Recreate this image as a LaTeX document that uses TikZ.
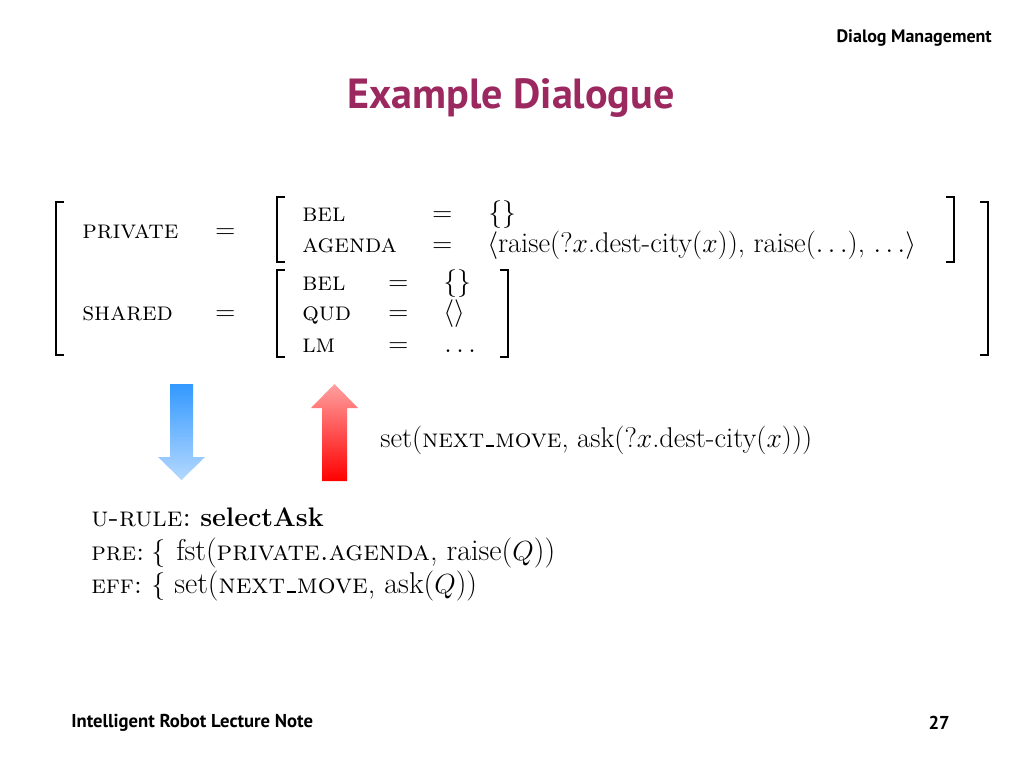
\documentclass[tikz,border=0pt]{standalone}
\usepackage{fontspec}
\newfontfamily\hdfont{PT Sans}
\definecolor{titlecol}{RGB}{155,40,95}
\definecolor{bluetop}{RGB}{51,153,255}
\definecolor{bluebot}{RGB}{180,216,255}
\definecolor{redtop}{RGB}{255,160,160}
\definecolor{redbot}{RGB}{255,0,0}
\newcommand{\usc}{\kern.05em\rule{.32em}{.07em}\kern.05em}
\newcommand{\capsz}[1]{{\fontsize{19.6}{24}\selectfont\textsc{#1}}}
\newcommand{\capbt}[1]{{\fontsize{21}{25}\selectfont\textsc{#1}}}
\tikzset{
  mt/.style={anchor=base west, inner sep=0pt, font=\fontsize{19.6}{24}\selectfont},
  mtl/.style={anchor=base west, inner sep=0pt, font=\fontsize{21.4}{26}\selectfont},
  mtr/.style={anchor=base west, inner sep=0pt, font=\fontsize{22.6}{27}\selectfont},
  brk/.style={line width=1.4pt, line cap=butt, line join=miter},
  hd/.style={inner sep=0pt, font=\hdfont\bfseries\fontsize{13.5}{16}\selectfont},
}
\begin{document}
\begin{tikzpicture}[x=0.75pt,y=-0.75pt]
\useasboundingbox (0,0) rectangle (1024,768);
\fill[white] (0,0) rectangle (1024,768);

% header / title / footer
\node[hd, anchor=base east] (hdr) at (992,42) {Dialog Management};
\node[inner sep=0pt, anchor=base, text=titlecol, font=\hdfont\bfseries\fontsize{31.6}{36}\selectfont] (title) at (511,108) {Example Dialogue};
\node[hd, anchor=base west, font=\hdfont\bfseries\fontsize{14}{16}\selectfont] (foot) at (71,727) {Intelligent Robot Lecture Note};
\node[hd, anchor=base east, font=\hdfont\bfseries\fontsize{14}{16}\selectfont] (page) at (950,729) {27};

% outer brackets
\draw[brk] (64,202) -- (56,202) -- (56,355) -- (64,355);
\draw[brk] (980,202) -- (988,202) -- (988,355) -- (980,355);
% private brackets
\draw[brk] (285,197) -- (277,197) -- (277,262) -- (285,262);
\draw[brk] (946,197) -- (954,197) -- (954,262) -- (946,262);
% shared brackets
\draw[brk] (285,270) -- (277,270) -- (277,357) -- (285,357);
\draw[brk] (500,270) -- (508,270) -- (508,357) -- (500,357);

% outer labels
\node[mt] (priv) at (82,238) {\textsc{private}};
\node[mt] (peq) at (215,238) {$=$};
\node[mt] (shar) at (82,320) {\textsc{shared}};
\node[mt] (seq) at (215,320) {$=$};

% private record
\node[mt] (bel1) at (302,221) {\textsc{bel}};
\node[mt] (bel1eq) at (432,221) {$=$};
\node[mtl] (bel1v) at (488,221) {$\{\}$};
\node[mt] (ag) at (302,252) {\textsc{agenda}};
\node[mt] (ageq) at (432,252) {$=$};
\node[mtl] (agv) at (487,252) {$\langle$raise(?$x$.dest-city($x$)), raise($\ldots$), $\ldots\rangle$};

% shared record
\node[mt] (bel2) at (302,290) {\textsc{bel}};
\node[mt] (bel2eq) at (388,290) {$=$};
\node[mtl] (bel2v) at (443,290) {$\{\}$};
\node[mt] (qud) at (302,320) {\textsc{qud}};
\node[mt] (qudeq) at (388,320) {$=$};
\node[mtl] (qudv) at (443,320) {$\langle\rangle$};
\node[mt] (lm) at (302,352) {\textsc{lm}};
\node[mt] (lmeq) at (388,352) {$=$};
\node[mtl] (lmv) at (444,352) {$\ldots$};

% block arrows
\shade[top color=bluetop, bottom color=bluebot]
  (170,384) -- (193,384) -- (193,457) -- (205,457) -- (181.5,480) -- (158,457) -- (170,457) -- cycle;
\shade[top color=redtop, bottom color=redbot]
  (334.5,384) -- (358,408) -- (347,408) -- (347,481) -- (322,481) -- (322,408) -- (311,408) -- cycle;

\node[mtl] (setlbl) at (380,447) {set(\capsz{next\usc move}, ask(?$x$.dest-city($x$)))};

% update rule
\node[mtr] (urule) at (91,526) {\capbt{u-rule:}};
\node[mtr, font=\fontsize{20.1}{24}\selectfont\bfseries] (uname) at (200,526) {selectAsk};
\node[mtr] (pre) at (91,560) {\capsz{pre:}};
\node[mtr] (prebr) at (151,560) {$\Big\{$};
\node[mtr] (prev) at (176,560) {fst(\capbt{private.agenda}, raise($Q$))};
\node[mtr] (eff) at (91,593) {\capsz{eff:}};
\node[mtr] (effbr) at (151,593) {$\Big\{$};
\node[mtr] (effv) at (174,593) {set(\capbt{next\usc move}, ask($Q$))};
\end{tikzpicture}
\end{document}
